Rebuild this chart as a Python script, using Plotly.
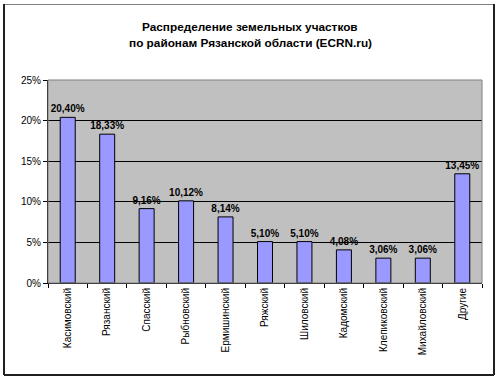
import plotly.graph_objects as go

categories = ["Касимовский", "Рязанский", "Спасский", "Рыбновский", "Ермишинский",
              "Ряжский", "Шиловский", "Кадомский", "Клепиковский", "Михайловский", "Другие"]
values = [20.40, 18.33, 9.16, 10.12, 8.14, 5.10, 5.10, 4.08, 3.06, 3.06, 13.45]
y_ticks = [0, 5, 10, 15, 20, 25]
y_tick_labels = ["0%", "5%", "10%", "15%", "20%", "25%"]
title_lines = ["Распределение земельных участков", "по районам Рязанской области (ECRN.ru)"]

labels = [f"{v:.2f}".replace(".", ",") + "%" for v in values]

W, H = 500, 381
L, R, T, B = 48, 18, 80, 98
pw, ph = W - L - R, H - T - B

def px(x):
    return (x - L) / pw

def py(y):
    return 1 - (y - T) / ph

def hline(x0, x1, y, color, w):
    return dict(type="line", xref="paper", yref="paper", x0=px(x0), x1=px(x1),
                y0=py(y), y1=py(y), line=dict(color=color, width=w))

def vline(x, y0, y1, color, w):
    return dict(type="line", xref="paper", yref="paper", x0=px(x), x1=px(x),
                y0=py(y0), y1=py(y1), line=dict(color=color, width=w))

fig = go.Figure(go.Bar(
    x=categories, y=values, text=labels, textposition="outside",
    constraintext="none",
    textfont=dict(family="Liberation Sans, Arial", size=10, color="black", weight="bold"),
    cliponaxis=False,
    marker=dict(color="#9999FF", line=dict(color="black", width=1)),
    width=0.38,
))

title_y = [27, 43]
annotations = [
    dict(text=t, xref="paper", yref="paper", x=px(250), y=py(yy), xanchor="center",
         yanchor="middle", showarrow=False,
         font=dict(family="Liberation Sans, Arial", size=11.8, color="black", weight="bold"))
    for t, yy in zip(title_lines, title_y)
]

fig.update_layout(
    width=W, height=H,
    margin=dict(l=L, r=R, t=T, b=B, autoexpand=False),
    paper_bgcolor="white", plot_bgcolor="#C0C0C0",
    font=dict(family="Liberation Sans, Arial", size=10, color="black"),
    showlegend=False,
    annotations=annotations,
    xaxis=dict(type="category", tickangle=-90, ticks="outside", tickson="boundaries",
               ticklen=4, tickcolor="black", showline=True, linecolor="black",
               linewidth=1, showgrid=False, tickfont=dict(size=10), automargin=False),
    yaxis=dict(range=[0, 25], tickvals=y_ticks, ticktext=y_tick_labels,
               ticks="outside", ticklen=4, tickcolor="black", showline=True,
               linecolor="black", linewidth=1, showgrid=True, gridcolor="black",
               gridwidth=1, zeroline=False, tickfont=dict(size=10), automargin=False),
    shapes=[
        hline(4, 494, 4.5, "#808080", 1),
        vline(4, 4, 375, "#202020", 2),
        vline(494, 4, 375, "#202020", 2),
        hline(4, 494, 375, "#202020", 2),
        dict(type="rect", xref="paper", yref="paper", x0=0, x1=1, y0=0, y1=1,
             line=dict(color="#808080", width=1)),
    ],
)

fig.write_html("out.html", config={"displayModeBar": False},
               post_script="document.body.style.margin='0';")
